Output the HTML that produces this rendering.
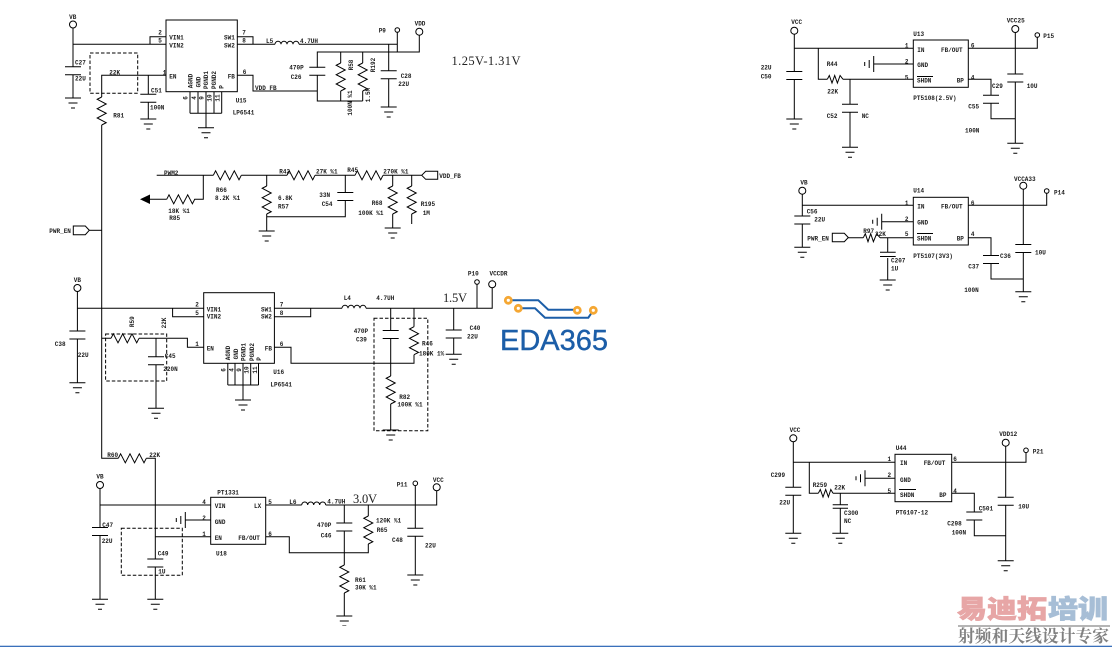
<!DOCTYPE html>
<html><head><meta charset="utf-8"><style>
html,body{margin:0;padding:0;background:#fff;width:1112px;height:647px;overflow:hidden}
svg{display:block}
.w{fill:none;stroke:#000;stroke-width:1}
.d{fill:none;stroke:#000;stroke-width:1;stroke-dasharray:3.5 2}
.t text{font-family:"Liberation Mono",monospace;font-size:6px;font-weight:bold;fill:#1a1a1a}
.c{text-anchor:middle}
.b{font-family:"Liberation Serif",serif!important;font-size:12.5px!important;font-weight:normal!important;fill:#222!important}
</style></head><body>
<svg width="1112" height="647" viewBox="0 0 1112 647" xmlns="http://www.w3.org/2000/svg">
<defs>
<filter id="bl" x="0" y="0" width="100%" height="100%"><feGaussianBlur stdDeviation="0.22"/></filter>
<g id="gnd" class="w"><path d="M-8 0H8M-4.500 5H4.500M-2 10H2"/></g>
<g id="cap" class="w"><path d="M-8 0H8M-8 8H8"/></g>
<g id="rh" class="w"><polyline points="0,0 2.300,-4.500 7,4.500 11.700,-4.500 16.300,4.500 21,-4.500 25.700,4.500 28,0"/></g>
<g id="rv" class="w"><polyline points="0,0 -4.500,2.300 4.500,7 -4.500,11.700 4.500,16.300 -4.500,21 4.500,25.700 0,28"/></g>
<g id="lh" class="w"><path d="M0 0a3 3 0 0 1 6 0a3 3 0 0 1 6 0a3 3 0 0 1 6 0a3 3 0 0 1 6 0"/></g>
<g id="gl" class="w"><path d="M0 -8V8M-4.500 -4V4M-9 -2V2"/></g>
</defs>
<rect width="1112" height="647" fill="#fff"/>
<g filter="url(#bl)">
<!-- U15 -->
<g class="w">
<circle cx="73" cy="24.500" r="3.500"/><circle cx="397.300" cy="30" r="2.300"/><circle cx="419.300" cy="31.700" r="3.500"/>
<rect x="166" y="20" width="71.300" height="71.700"/>
<path d="M73 28V66.700M73 74.700V98M73 44.300H166M150 44.300V36.700H166"/>
<path d="M237 36.700H253V44.300M237 44.300H275M299 44.300H397.300M397.300 32.300V52M419.300 35.200V52H317.300V67.700M317.300 75V101H362.700"/>
<path d="M340.700 52V63M340.700 91V101M362.700 52V63M362.700 91V101"/>
<path d="M388.700 44.300V70.700M388.700 78.700V107"/>
<path d="M237 75.300H253V91H317.300"/>
<path d="M166 75.300H101.700V97M101.700 125V458.300H118.300M146.300 458.300H155.300V559M155.300 567V599.300"/>
<path d="M148.300 75.300V94.300M148.300 102.300V119"/>
<path d="M190 91.700V113.300M198 91.700V113.300M206 91.700V127.700M214 91.700V113.300M221.700 91.700V113.300M190 113.300H221.700"/>
</g>
<path class="d" d="M90 53H137.700V93.300H90Z"/>
<use href="#gnd" x="73" y="98"/><use href="#gnd" x="148.300" y="119"/><use href="#gnd" x="206" y="127.700"/><use href="#gnd" x="388.700" y="107"/>
<use href="#cap" x="73" y="66.700"/><use href="#cap" x="148.300" y="94.300"/><use href="#cap" x="317.300" y="67.300"/><use href="#cap" x="388.700" y="70.700"/>
<use href="#lh" x="275" y="44.300"/>
<use href="#rv" x="101.700" y="97"/><use href="#rv" x="340.700" y="63"/><use href="#rv" x="362.700" y="63"/>
<!-- PWM section -->
<g class="w">
<path d="M156.700 175.300H213.300M241.300 175.300H287M315 175.300H355M383 175.300H421.700"/>
<path d="M203.300 175.300V199.300H194.300M166.700 199.300H150"/>
<path d="M266.700 175.300V186M266.700 214V231M266.700 216.700H345.300V200.700M345.300 192.700V175.300"/>
<path d="M392.700 175.300V186M392.700 214V228M411.700 175.300V186M411.700 214V224"/>
<polygon points="421.700,175.300 425.700,171.300 437.700,171.300 437.700,179.300 425.700,179.300"/>
<polygon points="73.300,226 85.300,226 89.300,230.300 85.300,234.700 73.300,234.700"/>
<path d="M89.300 230.300H101.700"/>
</g>
<polygon points="140,199.300 150,194.500 150,204" fill="#000"/>
<use href="#rh" x="213.300" y="175.300"/><use href="#rh" x="287" y="175.300"/><use href="#rh" x="355" y="175.300"/><use href="#rh" x="166.700" y="199.300"/>
<use href="#rv" x="266.700" y="186"/><use href="#rv" x="392.700" y="186"/><use href="#rv" x="411.700" y="186"/>
<use href="#cap" x="345.300" y="192.500"/><use href="#gnd" x="266.700" y="231"/><use href="#gnd" x="392.700" y="228"/>
<!-- U16 -->
<g class="w">
<circle cx="77.400" cy="288" r="3.500"/><circle cx="477" cy="282" r="2.300"/><circle cx="492.200" cy="284.300" r="3.500"/>
<rect x="203.700" y="292.700" width="70.700" height="70.600"/>
<path d="M77.400 291.500V331M77.400 339V382.700M77.400 308.300H203.700M172.600 308.300V316.700H203.700"/>
<path d="M274.400 308.300H342M366 308.300H492.200V287.800M477 284.300V308.300M274.400 316.700H310.700V308.300"/>
<path d="M390.700 308.300V331M390.700 338.500V376M390.700 404V430M414 308.300V326.700M414 354.700V363.300H291V347.300H274.400"/>
<path d="M453.700 308.300V330M453.700 338.300V354.300"/>
<path d="M203.700 347.300H187.400V338.300H139M111 338.300H101.700M156 338.300V356.700M156 365V408.300"/>
<path d="M227.800 363.300V385M235 363.300V385M243 363.300V400M250.700 363.300V385M258.500 363.300V385M227.800 385H258.500"/>
</g>
<path class="d" d="M374 318.300H427.800V430.700H374ZM105.600 334H166.700V381H105.600Z"/>
<use href="#gnd" x="77.400" y="382.700"/><use href="#gnd" x="156" y="408.300"/><use href="#gnd" x="243" y="400"/><use href="#gnd" x="390.700" y="430"/><use href="#gnd" x="453.700" y="354.300"/>
<use href="#cap" x="77.400" y="331"/><use href="#cap" x="156" y="356.700"/><use href="#cap" x="390.700" y="330.500"/><use href="#cap" x="453.700" y="330"/>
<use href="#lh" x="342" y="308.300"/><use href="#rh" x="111" y="338.300"/><use href="#rv" x="414" y="326.700"/><use href="#rv" x="390.700" y="376"/>
<!-- U18 -->
<g class="w">
<circle cx="100" cy="485" r="3.500"/><circle cx="415.300" cy="483.300" r="2.300"/><circle cx="436.700" cy="487.300" r="3.500"/>
<rect x="210.700" y="497.300" width="55" height="47"/>
<path d="M100 488.500V527.700M100 535.300V599.300M100 505H210.700M155.300 536.700H210.700M185.300 520H210.700"/>
<path d="M265.700 505H301.700M325.700 505H436.700V490.800M415.300 485.600V528.300M415.300 536V575"/>
<path d="M344.300 505V523.300M344.300 530.700V565M344.300 593V616M368.300 505V516M368.300 544V552.700H289.300V536.700H265.700"/>
</g>
<path class="d" d="M121.300 528.300H182.300V575.300H121.300Z"/>
<use href="#gl" x="185.300" y="520"/>
<use href="#gnd" x="100" y="599.300"/><use href="#gnd" x="155.300" y="599.300"/><use href="#gnd" x="344.300" y="616"/><use href="#gnd" x="415.300" y="575"/>
<use href="#cap" x="100" y="527.500"/><use href="#cap" x="155.300" y="559"/><use href="#cap" x="344.300" y="523"/><use href="#cap" x="415.300" y="528.300"/>
<use href="#lh" x="301.700" y="505"/><use href="#rh" x="118.300" y="458.300"/><use href="#rv" x="368.300" y="516"/><use href="#rv" x="344.300" y="565"/>
<!-- U13 -->
<g class="w">
<circle cx="794.300" cy="30.700" r="3.500"/><circle cx="1037.300" cy="35" r="2.300"/><circle cx="1015.300" cy="29" r="3.500"/>
<rect x="913.300" y="40" width="55" height="47.300"/>
<path d="M794.300 34.200V71.700M794.300 79.300V119M794.300 48.300H913.300M818.300 48.300V79.300H827.300M843 79.300H913.300"/>
<path d="M850 79.300V104.300M850 112.300V147.300M873.700 64H913.300"/>
<path d="M968.300 48.300H1037.300V37.300M1015.300 32.500V74.300M1015.300 82V143.300"/>
<path d="M968.300 79.300H991V95.300M991 103.300V118.700H1015.300M917 76.500H933"/>
<polyline points="827.300,79.300 829.300,75.500 832,83 834.700,75.500 837.400,83 840.100,75.500 843,79.300"/>
</g>
<use href="#gl" x="873.700" y="64"/>
<use href="#gnd" x="794.300" y="119"/><use href="#gnd" x="850" y="147.300"/><use href="#gnd" x="1015.300" y="143.300"/>
<use href="#cap" x="794.300" y="71.500"/><use href="#cap" x="850" y="104.300"/><use href="#cap" x="1015.300" y="74"/><use href="#cap" x="991" y="95.300"/>
<!-- U14 -->
<g class="w">
<circle cx="802.300" cy="190.700" r="3.500"/><circle cx="1046.700" cy="191" r="2.300"/><circle cx="1023.300" cy="185.700" r="3.500"/>
<rect x="913.300" y="197.300" width="55" height="47.700"/>
<path d="M802.300 194.200V216M802.300 224.300V247.300M802.300 205.300H913.300M848.300 237.700H863.300M880 237.700H913.300"/>
<polygon points="832.300,233.300 844.300,233.300 848.300,237.500 844.300,241.700 832.300,241.700"/>
<polyline points="863.300,237.700 865.300,233.700 868,241.700 870.700,233.700 873.400,241.700 876.700,233.700 880,237.700"/>
<path d="M887.700 237.700V252.300M887.700 258V280M881.700 221.700H913.300"/>
<path d="M968.300 205.300H1046.700V193.300M1023.300 189.200V244.700M1023.300 252.300V291.700"/>
<path d="M968.300 237.700H991V255.700M991 263.300V279H1023.300M917 233.500H933"/>
</g>
<use href="#gl" x="881.700" y="221.700"/>
<use href="#gnd" x="802.300" y="247.300"/><use href="#gnd" x="887.700" y="280"/><use href="#gnd" x="1023.300" y="291.700"/>
<use href="#cap" x="802.300" y="216"/><use href="#cap" x="1023.300" y="244.500"/><use href="#cap" x="991" y="255.500"/>
<g class="w"><path d="M880 252.300H895.700M880 256.500H895.700"/></g>
<!-- U44 -->
<g class="w">
<circle cx="793.300" cy="438.300" r="3.500"/><circle cx="1026" cy="450.300" r="2.300"/><circle cx="1005.700" cy="442.700" r="3.500"/>
<rect x="895" y="454.300" width="56.700" height="47.400"/>
<path d="M793.300 441.800V487.300M793.300 495.300V533.300M793.300 462.300H895M809.300 462.300V493.300H818.300M833 493.300H895"/>
<polyline points="818.300,493.300 820.300,489.500 823,497 825.700,489.500 828.400,497 830.800,489.500 833,493.300"/>
<path d="M840.300 493.300V504.700M840.300 508.300V533.300M865 478.300H895"/>
<path d="M951.700 462.300H1026V452.600M1005.700 446.200V497.300M1005.700 505.300V560.700"/>
<path d="M951.700 493.300H974.300V512.300M974.300 520V535.700H1005.700M899 489.500H916"/>
<path d="M832.700 504.700H848M832.700 508.300H848"/>
</g>
<use href="#gl" x="865" y="478.300"/>
<use href="#gnd" x="793.300" y="533.300"/><use href="#gnd" x="840.300" y="533.300"/><use href="#gnd" x="1005.700" y="560.700"/>
<use href="#cap" x="793.300" y="487.300"/><use href="#cap" x="1005.700" y="497.300"/><use href="#cap" x="974.300" y="512"/>
<!-- text -->
<g class="t">
<text x="72.700" y="19" class="c">VB</text><text x="160" y="34.500" class="c">2</text><text x="160" y="42.500" class="c">5</text>
<text x="169.300" y="39.500">VIN1</text><text x="169.300" y="47.500">VIN2</text><text x="224" y="39.500">SW1</text><text x="224" y="47.500">SW2</text>
<text x="244" y="34.500" class="c">7</text><text x="244" y="42.500" class="c">8</text><text x="266" y="43">L5</text><text x="300" y="43">4.7UH</text>
<text x="378.700" y="32.700">P9</text><text x="420" y="25.300" class="c">VDD</text><text x="75" y="64.300">C27</text><text x="75" y="80.300">22U</text>
<text x="113.300" y="117.700">R81</text><text x="109.300" y="74.700">22K</text><text x="162.700" y="74.700">1</text><text x="169.300" y="78.700">EN</text>
<text x="151" y="92.700">C51</text><text x="150" y="109.700">100N</text><text x="227.700" y="78.700">FB</text><text x="242.700" y="74">6</text>
<text x="255" y="90">VDD_FB</text><text x="289.300" y="69.700">470P</text><text x="290.700" y="79">C26</text><text x="400.700" y="78">C28</text><text x="398.300" y="86">22U</text>
<text x="235.700" y="102.700">U15</text><text x="232.700" y="114.700">LP6541</text>
<text transform="translate(353,65) rotate(-90)" class="c">R58</text><text transform="translate(375,65) rotate(-90)" class="c">R192</text>
<text transform="translate(352,103) rotate(-90)" class="c">100N %1</text><text transform="translate(370,95) rotate(-90)" class="c">1.5M</text>
<text transform="translate(192.500,81) rotate(-90)" class="c">AGND</text><text transform="translate(200.300,82) rotate(-90)" class="c">GND</text>
<text transform="translate(208,80) rotate(-90)" class="c">PGND1</text><text transform="translate(216,80) rotate(-90)" class="c">PGND2</text><text transform="translate(223.500,87) rotate(-90)" class="c">P</text>
<text transform="translate(187.500,98) rotate(-90)" class="c">6</text><text transform="translate(196,98) rotate(-90)" class="c">4</text><text transform="translate(203.700,98) rotate(-90)" class="c">9</text>
<text transform="translate(211.300,98) rotate(-90)" class="c">10</text><text transform="translate(219.300,98) rotate(-90)" class="c">11</text>

<text x="164" y="175">PWM2</text><text x="216" y="192">R66</text><text x="215" y="200">8.2K %1</text><text x="168.300" y="213">18K %1</text><text x="169.300" y="220">R85</text>
<text x="279.300" y="173.700">R42</text><text x="316" y="173.700">27K %1</text><text x="347.300" y="172">R45</text><text x="383.300" y="173.700">270K %1</text><text x="439.300" y="178">VDD_FB</text>
<text x="278" y="200">6.8K</text><text x="278" y="208.700">R57</text><text x="319.300" y="197">33N</text><text x="321.700" y="206">C54</text>
<text x="371.700" y="205">R68</text><text x="358.300" y="215">100K %1</text><text x="420.700" y="206">R195</text><text x="422.700" y="215">1M</text><text x="49.300" y="233">PWR_EN</text>
<text class="b" x="451.500" y="65" textLength="69" lengthAdjust="spacing">1.25V-1.31V</text>

<text x="77.400" y="282" class="c">VB</text><text x="197" y="306.500" class="c">2</text><text x="197" y="315" class="c">5</text><text x="206.700" y="311.300">VIN1</text><text x="206.700" y="318.700">VIN2</text>
<text x="261" y="311.300">SW1</text><text x="261" y="318.700">SW2</text><text x="281.500" y="306.500" class="c">7</text><text x="281.500" y="315" class="c">8</text>
<text x="343.700" y="300">L4</text><text x="376.300" y="300">4.7UH</text><text x="473.300" y="275.300" class="c">P10</text><text x="498.500" y="275.300" class="c">VCCDR</text>
<text x="353.700" y="333">470P</text><text x="356" y="341.300">C39</text><text x="469.600" y="330">C40</text><text x="467" y="338.700">22U</text>
<text x="422" y="345.300">R46</text><text x="419" y="355.300">180K 1%</text><text x="399.300" y="399">R82</text><text x="397.400" y="406.300">100K %1</text>
<text x="54.800" y="346">C38</text><text x="77.800" y="357">22U</text><text transform="translate(134,321.700) rotate(-90)" class="c">R59</text><text transform="translate(166,323) rotate(-90)" class="c">22K</text>
<text x="164.800" y="358">C45</text><text x="163.300" y="371">220N</text><text x="197" y="346" class="c">1</text><text x="206.700" y="350.700">EN</text><text x="264.800" y="350.700">FB</text><text x="281.500" y="346" class="c">6</text>
<text x="273.300" y="374">U16</text><text x="270.400" y="386.700">LP6541</text>
<text transform="translate(230,353) rotate(-90)" class="c">AGND</text><text transform="translate(238,354) rotate(-90)" class="c">GND</text><text transform="translate(245.700,352) rotate(-90)" class="c">PGND1</text>
<text transform="translate(253.900,352) rotate(-90)" class="c">PGND2</text><text transform="translate(261,359) rotate(-90)" class="c">P</text>
<text transform="translate(225.300,370) rotate(-90)" class="c">6</text><text transform="translate(233.500,370) rotate(-90)" class="c">4</text><text transform="translate(241,370) rotate(-90)" class="c">9</text>
<text transform="translate(248.700,370) rotate(-90)" class="c">10</text><text transform="translate(256.800,370) rotate(-90)" class="c">11</text>
<text class="b" x="443" y="302" textLength="24" lengthAdjust="spacing">1.5V</text>

<text x="107.300" y="457">R60</text><text x="149.300" y="457">22K</text><text x="100" y="478.700" class="c">VB</text><text x="102.300" y="527">C47</text><text x="101.700" y="543">22U</text>
<text x="217.300" y="494.700">PT1331</text><text x="214.700" y="508">VIN</text><text x="214.700" y="524">GND</text><text x="214.700" y="540">EN</text><text x="254" y="508">LX</text><text x="238.300" y="540">FB/OUT</text>
<text x="204" y="504" class="c">4</text><text x="204" y="520" class="c">2</text><text x="204" y="536" class="c">1</text><text x="270" y="504" class="c">5</text><text x="270" y="536" class="c">6</text>
<text x="216" y="555.500">U18</text><text x="289.300" y="504">L6</text><text x="327.300" y="503.500">4.7UH</text><text class="b" x="353" y="503" textLength="24" lengthAdjust="spacing">3.0V</text>
<text x="396.700" y="486.700">P11</text><text x="438.300" y="482" class="c">VCC</text><text x="317" y="527">470P</text><text x="320.700" y="537.700">C46</text><text x="376" y="522.700">120K %1</text><text x="376.700" y="532">R65</text>
<text x="392" y="542">C48</text><text x="425" y="547.700">22U</text><text x="355" y="582">R61</text><text x="355" y="589.500">30K %1</text><text x="157.700" y="555.500">C49</text><text x="158.300" y="573.700">1U</text>

<text x="796.700" y="24" class="c">VCC</text><text x="913.300" y="36">U13</text><text x="906.700" y="47.700" class="c">1</text><text x="906.700" y="63.700" class="c">2</text><text x="906.700" y="79.700" class="c">5</text>
<text x="917.300" y="52">IN</text><text x="917.300" y="67">GND</text><text x="917" y="82.700">SHDN</text><text x="941" y="52">FB/OUT</text><text x="956.700" y="82.700">BP</text><text x="972.700" y="47.700" class="c">6</text><text x="972.700" y="79.700" class="c">4</text>
<text x="913.300" y="100">PT5108(2.5V)</text><text x="1006.700" y="22.700">VCC25</text><text x="1043.300" y="38">P15</text><text x="760.700" y="69.700">22U</text><text x="760.700" y="78.700">C50</text>
<text x="826.700" y="66">R44</text><text x="827.300" y="93.700">22K</text><text x="826.700" y="118">C52</text><text x="861.700" y="118">NC</text><text x="992" y="88">C29</text><text x="968.300" y="108.700">C55</text><text x="965" y="132.700">100N</text><text x="1026.700" y="88">10U</text>

<text x="804" y="184.500" class="c">VB</text><text x="913.300" y="192.700">U14</text><text x="906.700" y="205" class="c">1</text><text x="906.700" y="221" class="c">2</text><text x="906.700" y="236" class="c">5</text>
<text x="917.300" y="208.700">IN</text><text x="917.300" y="224.700">GND</text><text x="917" y="240.300">SHDN</text><text x="941" y="208.700">FB/OUT</text><text x="956.700" y="240.300">BP</text><text x="972.700" y="205" class="c">6</text><text x="972.700" y="236" class="c">4</text>
<text x="913.300" y="258">PT5107(3V3)</text><text x="1014" y="181">VCCA33</text><text x="1054" y="194.700">P14</text><text x="806.700" y="213.700">C56</text><text x="814.300" y="221.300">22U</text>
<text x="807.300" y="240.300">PWR_EN</text><text x="863.300" y="233">R97</text><text x="875" y="236">22K</text><text x="891" y="262.700">C207</text><text x="891" y="270.700">1U</text>
<text x="1000" y="258">C36</text><text x="968.300" y="268.700">C37</text><text x="964.300" y="292">100N</text><text x="1035" y="254.700">10U</text>

<text x="795" y="432" class="c">VCC</text><text x="895.700" y="450">U44</text><text x="889.300" y="461" class="c">1</text><text x="889.300" y="477" class="c">2</text><text x="889.300" y="493" class="c">5</text>
<text x="900" y="465">IN</text><text x="900" y="482">GND</text><text x="900" y="497">SHDN</text><text x="923.700" y="465">FB/OUT</text><text x="939.300" y="497">BP</text><text x="955" y="461" class="c">6</text><text x="955" y="493" class="c">4</text>
<text x="895.700" y="514.700">PT6107-12</text><text x="1008.300" y="436" class="c">VDD12</text><text x="1032.700" y="453.300">P21</text><text x="770.700" y="477">C299</text><text x="779.300" y="504.700">22U</text>
<text x="812.700" y="487">R259</text><text x="834.300" y="489.700">22K</text><text x="844" y="515">C300</text><text x="844" y="523">NC</text><text x="978.700" y="510.700">C501</text><text x="947.300" y="525.300">C298</text><text x="951.700" y="534.700">100N</text><text x="1018.300" y="508.700">10U</text>
</g>
</g>
<!-- EDA365 logo -->
<g fill="none" stroke="#1c5ea8" stroke-width="2">
<path d="M508.300 300.300H538.300L548.300 309.700H577M518.300 308.300H535L545 317.700H588.300L593.300 310.300"/>
</g>
<g fill="#fff" stroke="#f5a733" stroke-width="2.800">
<circle cx="508.300" cy="300.300" r="3"/><circle cx="518.300" cy="308.300" r="3"/><circle cx="577.300" cy="310.300" r="3"/><circle cx="593.300" cy="310.300" r="3"/>
</g>
<text x="500" y="350" font-family="Liberation Sans,sans-serif" font-size="29" fill="#1c5ea8" stroke="#1c5ea8" stroke-width="0.4" textLength="108" lengthAdjust="spacingAndGlyphs">EDA365</text>
<!-- watermark -->
<g filter="url(#bl)">
<text transform="translate(957,618) scale(1,0.86)" font-family="'Noto Sans CJK SC',sans-serif" font-size="30" font-weight="900" fill="#e7a6a6" stroke="#e7a6a6" stroke-width="0.9">易迪拓</text>
<text transform="translate(1048,618) scale(1,0.86)" font-family="'Noto Sans CJK SC',sans-serif" font-size="30" font-weight="900" fill="#a7bed6" stroke="#a7bed6" stroke-width="0.9">培训</text>
<rect x="958" y="625" width="152" height="2" fill="#b5b5b5"/>
<text x="958" y="642" font-family="'Noto Serif CJK SC',serif" font-size="16.800" font-weight="bold" fill="#808080">射频和天线设计专家</text>
</g>
<rect x="0" y="645.700" width="1112" height="1.300" fill="#3a70bb"/>
</svg>
</body></html>
